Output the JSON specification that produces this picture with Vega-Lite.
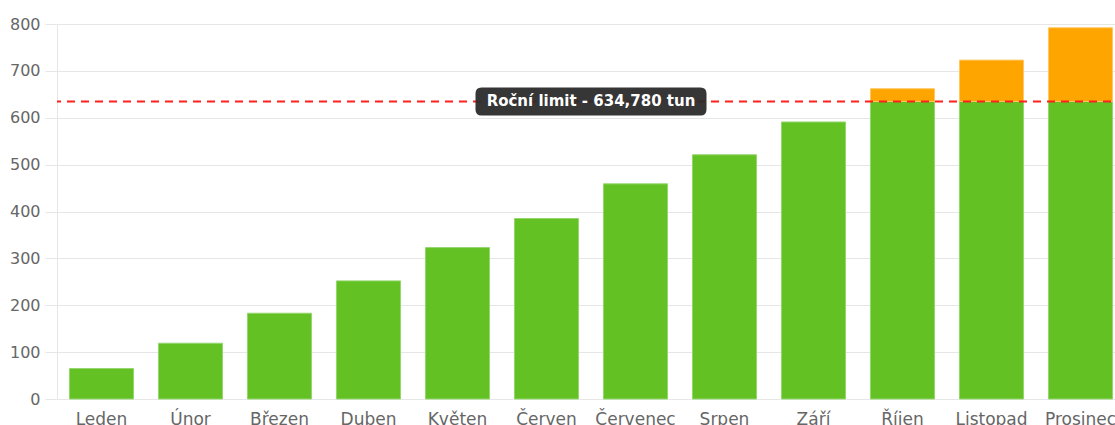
{
  "$schema": "https://vega.github.io/schema/vega-lite/v6.json",
  "autosize": "none",
  "width": 1068,
  "height": 375,
  "padding": {"left": 57, "top": 24, "right": 0, "bottom": 26},
  "background": "white",
  "config": {
    "view": {"stroke": null},
    "font": "DejaVu Sans",
    "axis": {
      "labelFont": "DejaVu Sans",
      "labelFontSize": 16,
      "labelColor": "#666666",
      "gridColor": "#e6e6e6",
      "domainColor": "#e6e6e6",
      "tickColor": "#e6e6e6",
      "title": null
    }
  },
  "datasets": {
    "monthly": [
      {"month": "Leden", "part": "do limitu", "tons": 65},
      {"month": "Únor", "part": "do limitu", "tons": 119},
      {"month": "Březen", "part": "do limitu", "tons": 183},
      {"month": "Duben", "part": "do limitu", "tons": 252},
      {"month": "Květen", "part": "do limitu", "tons": 323},
      {"month": "Červen", "part": "do limitu", "tons": 385},
      {"month": "Červenec", "part": "do limitu", "tons": 459},
      {"month": "Srpen", "part": "do limitu", "tons": 521},
      {"month": "Září", "part": "do limitu", "tons": 591},
      {"month": "Říjen", "part": "do limitu", "tons": 634.78},
      {"month": "Říjen", "part": "nad limit", "tons": 27.2},
      {"month": "Listopad", "part": "do limitu", "tons": 634.78},
      {"month": "Listopad", "part": "nad limit", "tons": 88.2},
      {"month": "Prosinec", "part": "do limitu", "tons": 634.78},
      {"month": "Prosinec", "part": "nad limit", "tons": 157.2}
    ],
    "limit": [
      {"label": "Roční limit - 634,780 tun", "limit": 634.78}
    ]
  },
  "layer": [
    {
      "data": {"name": "monthly"},
      "mark": {"type": "bar", "strokeWidth": 1},
      "encoding": {
        "x": {
          "field": "month",
          "type": "nominal",
          "sort": null,
          "scale": {"paddingInner": 0.28, "paddingOuter": 0.14},
          "axis": {"labelAngle": 0, "ticks": false, "domain": false, "grid": false, "labelPadding": 12, "labelBaseline": "top", "labelFontSize": 17}
        },
        "y": {
          "field": "tons",
          "type": "quantitative",
          "stack": "zero",
          "scale": {"domain": [0, 800], "nice": false},
          "axis": {"values": [0, 100, 200, 300, 400, 500, 600, 700, 800], "tickSize": 12, "labelPadding": 5, "domain": true}
        },
        "color": {
          "field": "part",
          "type": "nominal",
          "scale": {"domain": ["do limitu", "nad limit"], "range": ["#63c123", "#ffa500"]},
          "legend": null
        },
        "stroke": {
          "field": "part",
          "type": "nominal",
          "scale": {"domain": ["do limitu", "nad limit"], "range": ["#95d670", "#ffc866"]},
          "legend": null
        },
        "order": {"field": "part", "sort": "ascending"}
      }
    },
    {
      "data": {"name": "limit"},
      "mark": {"type": "rule", "color": "#ff1f1f", "strokeWidth": 2, "strokeDash": [8, 6]},
      "encoding": {
        "y": {"field": "limit", "type": "quantitative"}
      }
    },
    {
      "data": {"name": "limit"},
      "mark": {
        "type": "point",
        "filled": true,
        "color": "#2b2b2b",
        "opacity": 0.95,
        "x": {"expr": "width/2"},
        "size": 53361,
        "shape": "M-0.948,-0.1212 L0.948,-0.1212 Q1,-0.1212 1,-0.0692 L1,0.0692 Q1,0.1212 0.948,0.1212 L-0.948,0.1212 Q-1,0.1212 -1,0.0692 L-1,-0.0692 Q-1,-0.1212 -0.948,-0.1212 Z"
      },
      "encoding": {
        "y": {"field": "limit", "type": "quantitative"}
      }
    },
    {
      "data": {"name": "limit"},
      "mark": {
        "type": "text",
        "color": "white",
        "font": "DejaVu Sans",
        "fontWeight": "bold",
        "fontSize": 15,
        "align": "center",
        "baseline": "middle",
        "x": {"expr": "width/2"}
      },
      "encoding": {
        "y": {"field": "limit", "type": "quantitative"},
        "text": {"field": "label"}
      }
    }
  ]
}
